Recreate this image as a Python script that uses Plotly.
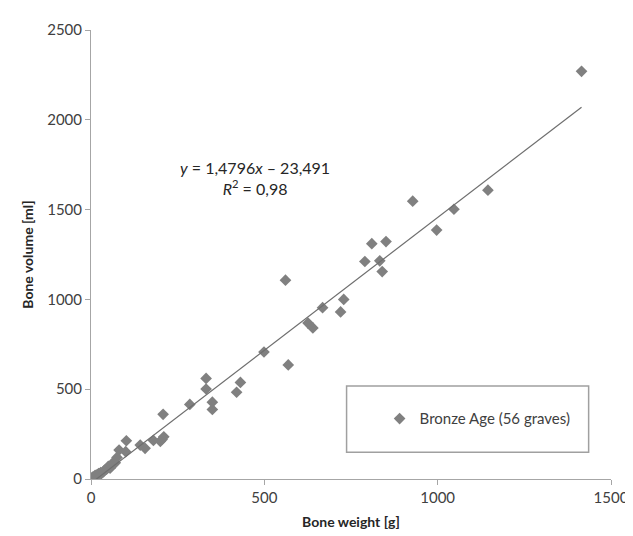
import numpy as np
import plotly.graph_objects as go

# Bone weight [g] and bone volume [ml] for 56 Bronze Age graves
bone_weight = [1415, 1145, 1047, 997, 928, 851, 810, 790, 833, 840,
               729, 720, 668, 640, 626, 569, 561, 499, 431, 420,
               350, 350, 332, 332, 285, 208, 210, 205, 200, 180,
               156, 142, 102, 100, 81, 75, 70, 62, 55, 50,
               48, 45, 40, 38, 35, 30, 28, 25, 22, 20,
               18, 15, 12, 10, 5, 2]
bone_volume = [2270, 1608, 1502, 1386, 1547, 1322, 1310, 1211, 1215, 1155,
               1000, 930, 954, 841, 868, 635, 1107, 707, 538, 483,
               428, 387, 560, 501, 415, 360, 235, 220, 210, 215,
               171, 189, 213, 152, 161, 120, 90, 88, 60, 70,
               62, 55, 50, 45, 40, 30, 35, 28, 30, 22,
               25, 18, 20, 15, 10, 5]

series_name = "Bronze Age (56 graves)"
slope = 1.4796
intercept = -23.491
r_squared = 0.98

x_ticks = [0, 500, 1000, 1500]
y_ticks = [0, 500, 1000, 1500, 2000, 2500]

font_family = "Lato, 'Open Sans', sans-serif"
grey_text = "#404040"
axis_color = "#a6a6a6"

fit_x = np.array([min(bone_weight), max(bone_weight)])
fit_y = slope * fit_x + intercept

fig = go.Figure()
fig.add_trace(go.Scatter(
    x=bone_weight, y=bone_volume, mode="markers", name=series_name,
    marker=dict(symbol="diamond", size=9, color="#808080", line=dict(width=0)),
))
fig.add_trace(go.Scatter(
    x=fit_x, y=fit_y, mode="lines", showlegend=False,
    line=dict(color="#6e6e6e", width=1.2), hoverinfo="skip",
))

axis_common = dict(
    showgrid=False, zeroline=False, showline=True, linecolor=axis_color, linewidth=1,
    ticks="outside", tickcolor=axis_color, ticklen=5, tickwidth=1,
    tickfont=dict(family=font_family, size=15, color=grey_text),
)

fig.update_layout(
    width=633, height=536,
    margin=dict(l=83, r=19, t=17, b=65),
    plot_bgcolor="white", paper_bgcolor="white",
    font=dict(family=font_family, color=grey_text),
    xaxis=dict(range=[0, 1500], tickvals=x_ticks, **axis_common,
               title=dict(text="<b>Bone weight [g]</b>", font=dict(family=font_family, size=14, color="#262626"), standoff=12)),
    yaxis=dict(range=[0, 2500], tickvals=y_ticks, **axis_common,
               title=dict(text="<b>Bone volume [ml]</b>", font=dict(family=font_family, size=14, color="#262626"), standoff=10)),
    legend=dict(x=0.555, y=0.134, xanchor="left", yanchor="middle",
                bgcolor="rgba(0,0,0,0)", borderwidth=0,
                font=dict(family=font_family, size=15, color=grey_text),
                itemwidth=30),
    shapes=[dict(type="rect", xref="paper", yref="paper",
                 x0=0.4915, x1=0.957, y0=0.0595, y1=0.207,
                 line=dict(color="#a0a0a0", width=1.5), fillcolor="white", layer="below")],
    annotations=[dict(
        xref="paper", yref="paper", x=0.316, y=0.67, xanchor="center", yanchor="middle",
        showarrow=False, align="center",
        text=(f"<i>y</i> = {str(slope).replace('.', ',')}<i>x</i> \u2013 {str(-intercept).replace('.', ',')}"
              f"<br><i>R</i><sup>2</sup> = {str(r_squared).replace('.', ',')}"),
        font=dict(family=font_family, size=16, color="#262626"),
    )],
)

fig.write_html("out.html")
